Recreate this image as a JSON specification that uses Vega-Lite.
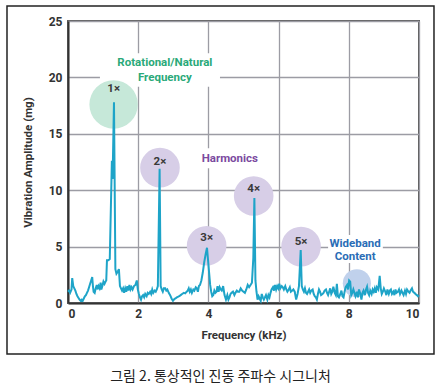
{
  "$schema": "https://vega.github.io/schema/vega-lite/v6.json",
  "width": 351,
  "height": 282,
  "autosize": "none",
  "padding": {"left": 68, "top": 21, "right": 25, "bottom": 84},
  "background": "white",
  "config": {
    "view": {"stroke": "#5a5a5a", "strokeWidth": 2},
    "font": "Roboto",
    "axis": {
      "labelFont": "Roboto", "labelFontWeight": "bold", "labelFontSize": 12, "labelColor": "#333333",
      "titleFont": "Roboto", "titleFontWeight": "bold", "titleFontSize": 11.5, "titleColor": "#333333",
      "gridColor": "#9c9ca4", "gridWidth": 1.3, "gridOpacity": 1,
      "domainColor": "#333333", "domainWidth": 2, "ticks": false
    }
  },
  "title": {
    "text": "그림 2. 통상적인 진동 주파수 시그니처",
    "orient": "bottom", "anchor": "middle", "frame": "bounds",
    "font": "Noto Sans CJK KR", "fontSize": 14, "fontWeight": "normal", "color": "#222222",
    "offset": 15
  },
  "datasets": {
    "spec": [
      {"f":0,"a":1.0},{"f":0.03,"a":1.1},{"f":0.06,"a":0.9},{"f":0.1,"a":1.2},{"f":0.12,"a":2.2},{"f":0.15,"a":1.5},{"f":0.18,"a":1.3},{"f":0.21,"a":1.1},{"f":0.24,"a":0.8},{"f":0.27,"a":0.6},{"f":0.3,"a":0.45},{"f":0.33,"a":0.3},{"f":0.36,"a":0.2},{"f":0.39,"a":0.3},{"f":0.42,"a":0.2},{"f":0.45,"a":0.4},{"f":0.48,"a":0.6},{"f":0.51,"a":0.7},{"f":0.54,"a":0.9},{"f":0.57,"a":1.1},{"f":0.6,"a":1.4},{"f":0.63,"a":1.7},{"f":0.66,"a":2.0},{"f":0.69,"a":2.3},{"f":0.71,"a":1.5},{"f":0.73,"a":1.0},{"f":0.76,"a":0.9},{"f":0.79,"a":1.3},{"f":0.82,"a":1.6},{"f":0.84,"a":1.2},{"f":0.87,"a":1.5},{"f":0.9,"a":1.3},{"f":0.93,"a":1.8},{"f":0.95,"a":1.2},{"f":0.98,"a":1.5},{"f":1.01,"a":1.9},{"f":1.04,"a":1.7},{"f":1.07,"a":1.9},{"f":1.09,"a":2.0},{"f":1.11,"a":3.8},{"f":1.15,"a":3.8},{"f":1.19,"a":3.9},{"f":1.25,"a":12.6},{"f":1.27,"a":11.0},{"f":1.31,"a":17.8},{"f":1.35,"a":3.0},{"f":1.38,"a":2.6},{"f":1.42,"a":2.8},{"f":1.45,"a":3.0},{"f":1.48,"a":1.5},{"f":1.51,"a":1.3},{"f":1.54,"a":1.1},{"f":1.57,"a":1.3},{"f":1.6,"a":0.9},{"f":1.63,"a":1.3},{"f":1.66,"a":1.0},{"f":1.69,"a":1.5},{"f":1.72,"a":1.1},{"f":1.75,"a":1.6},{"f":1.78,"a":1.2},{"f":1.81,"a":1.4},{"f":1.84,"a":1.2},{"f":1.88,"a":1.5},{"f":1.92,"a":1.6},{"f":1.96,"a":2.0},{"f":1.99,"a":1.2},{"f":2.02,"a":0.8},{"f":2.05,"a":0.5},{"f":2.08,"a":0.3},{"f":2.11,"a":0.6},{"f":2.14,"a":0.7},{"f":2.17,"a":0.5},{"f":2.2,"a":0.8},{"f":2.24,"a":0.6},{"f":2.27,"a":0.9},{"f":2.3,"a":0.8},{"f":2.34,"a":1.0},{"f":2.37,"a":0.8},{"f":2.4,"a":1.2},{"f":2.43,"a":0.9},{"f":2.47,"a":1.1},{"f":2.5,"a":1.0},{"f":2.53,"a":1.2},{"f":2.56,"a":1.5},{"f":2.61,"a":11.9},{"f":2.64,"a":1.5},{"f":2.67,"a":1.2},{"f":2.7,"a":1.0},{"f":2.73,"a":1.3},{"f":2.77,"a":1.3},{"f":2.8,"a":1.1},{"f":2.83,"a":1.2},{"f":2.87,"a":0.9},{"f":2.91,"a":0.7},{"f":2.95,"a":0.4},{"f":2.99,"a":0.2},{"f":3.03,"a":0.35},{"f":3.06,"a":0.4},{"f":3.1,"a":0.5},{"f":3.13,"a":0.55},{"f":3.17,"a":0.6},{"f":3.21,"a":0.7},{"f":3.25,"a":0.8},{"f":3.3,"a":0.9},{"f":3.34,"a":0.85},{"f":3.38,"a":1.0},{"f":3.41,"a":1.1},{"f":3.44,"a":1.3},{"f":3.47,"a":1.0},{"f":3.5,"a":1.2},{"f":3.53,"a":0.9},{"f":3.57,"a":1.2},{"f":3.6,"a":1.1},{"f":3.64,"a":1.4},{"f":3.67,"a":1.3},{"f":3.7,"a":1.0},{"f":3.73,"a":1.5},{"f":3.76,"a":1.6},{"f":3.8,"a":2.0},{"f":3.84,"a":2.7},{"f":3.88,"a":3.6},{"f":3.92,"a":4.3},{"f":3.96,"a":4.9},{"f":3.99,"a":3.8},{"f":4.02,"a":2.7},{"f":4.05,"a":1.6},{"f":4.08,"a":1.0},{"f":4.11,"a":0.6},{"f":4.14,"a":0.7},{"f":4.17,"a":1.1},{"f":4.2,"a":0.9},{"f":4.23,"a":1.0},{"f":4.26,"a":1.5},{"f":4.29,"a":1.0},{"f":4.32,"a":1.4},{"f":4.35,"a":1.2},{"f":4.38,"a":1.1},{"f":4.42,"a":1.5},{"f":4.46,"a":0.7},{"f":4.5,"a":0.3},{"f":4.54,"a":0.7},{"f":4.57,"a":0.3},{"f":4.6,"a":0.5},{"f":4.63,"a":0.8},{"f":4.66,"a":0.9},{"f":4.7,"a":1.0},{"f":4.74,"a":0.7},{"f":4.77,"a":0.9},{"f":4.81,"a":1.1},{"f":4.84,"a":1.0},{"f":4.88,"a":1.0},{"f":4.92,"a":1.3},{"f":4.96,"a":1.1},{"f":5.0,"a":1.0},{"f":5.04,"a":0.9},{"f":5.08,"a":1.2},{"f":5.12,"a":1.6},{"f":5.16,"a":1.4},{"f":5.2,"a":1.6},{"f":5.24,"a":1.8},{"f":5.28,"a":4.0},{"f":5.31,"a":9.3},{"f":5.34,"a":2.0},{"f":5.37,"a":1.0},{"f":5.4,"a":0.3},{"f":5.43,"a":0.6},{"f":5.46,"a":0.4},{"f":5.49,"a":0.2},{"f":5.52,"a":0.8},{"f":5.55,"a":0.5},{"f":5.58,"a":0.3},{"f":5.61,"a":0.5},{"f":5.64,"a":0.7},{"f":5.68,"a":0.3},{"f":5.71,"a":0.7},{"f":5.74,"a":0.5},{"f":5.77,"a":0.9},{"f":5.8,"a":1.2},{"f":5.84,"a":1.4},{"f":5.87,"a":1.1},{"f":5.9,"a":1.6},{"f":5.93,"a":1.2},{"f":5.96,"a":1.5},{"f":5.99,"a":1.3},{"f":6.02,"a":1.7},{"f":6.05,"a":1.3},{"f":6.09,"a":1.5},{"f":6.12,"a":1.4},{"f":6.15,"a":1.2},{"f":6.19,"a":1.5},{"f":6.22,"a":1.2},{"f":6.25,"a":1.0},{"f":6.29,"a":1.2},{"f":6.32,"a":1.4},{"f":6.35,"a":1.0},{"f":6.39,"a":1.1},{"f":6.42,"a":1.2},{"f":6.46,"a":1.0},{"f":6.5,"a":0.3},{"f":6.54,"a":0.8},{"f":6.58,"a":1.5},{"f":6.63,"a":4.7},{"f":6.66,"a":1.5},{"f":6.69,"a":1.2},{"f":6.72,"a":1.0},{"f":6.75,"a":1.3},{"f":6.78,"a":0.9},{"f":6.81,"a":0.8},{"f":6.84,"a":1.0},{"f":6.87,"a":1.2},{"f":6.9,"a":0.9},{"f":6.93,"a":1.1},{"f":6.97,"a":1.2},{"f":7.0,"a":0.8},{"f":7.03,"a":0.6},{"f":7.06,"a":0.5},{"f":7.09,"a":0.3},{"f":7.12,"a":0.8},{"f":7.15,"a":1.2},{"f":7.18,"a":1.0},{"f":7.21,"a":0.7},{"f":7.25,"a":0.8},{"f":7.28,"a":0.9},{"f":7.31,"a":1.1},{"f":7.35,"a":1.2},{"f":7.38,"a":0.9},{"f":7.41,"a":0.7},{"f":7.44,"a":1.0},{"f":7.47,"a":1.3},{"f":7.5,"a":0.8},{"f":7.53,"a":1.0},{"f":7.56,"a":1.45},{"f":7.6,"a":0.9},{"f":7.63,"a":0.7},{"f":7.66,"a":1.7},{"f":7.69,"a":0.6},{"f":7.72,"a":0.5},{"f":7.76,"a":0.8},{"f":7.79,"a":1.1},{"f":7.82,"a":0.6},{"f":7.85,"a":0.5},{"f":7.88,"a":1.0},{"f":7.91,"a":1.4},{"f":7.95,"a":1.6},{"f":7.98,"a":1.2},{"f":8.01,"a":2.0},{"f":8.04,"a":1.9},{"f":8.07,"a":0.7},{"f":8.1,"a":0.9},{"f":8.13,"a":1.2},{"f":8.16,"a":0.9},{"f":8.19,"a":0.6},{"f":8.23,"a":1.0},{"f":8.26,"a":0.5},{"f":8.29,"a":1.2},{"f":8.33,"a":0.8},{"f":8.36,"a":0.3},{"f":8.39,"a":0.9},{"f":8.42,"a":1.1},{"f":8.46,"a":0.7},{"f":8.49,"a":1.2},{"f":8.52,"a":1.45},{"f":8.55,"a":0.9},{"f":8.58,"a":0.7},{"f":8.61,"a":1.1},{"f":8.65,"a":0.8},{"f":8.68,"a":1.2},{"f":8.71,"a":1.0},{"f":8.74,"a":1.3},{"f":8.77,"a":0.9},{"f":8.8,"a":1.4},{"f":8.84,"a":1.2},{"f":8.88,"a":2.4},{"f":8.91,"a":1.3},{"f":8.94,"a":0.8},{"f":8.97,"a":1.0},{"f":9.0,"a":1.3},{"f":9.04,"a":1.0},{"f":9.07,"a":0.7},{"f":9.1,"a":1.2},{"f":9.14,"a":0.8},{"f":9.17,"a":1.1},{"f":9.2,"a":1.2},{"f":9.23,"a":0.8},{"f":9.27,"a":1.0},{"f":9.3,"a":0.7},{"f":9.33,"a":1.2},{"f":9.36,"a":0.9},{"f":9.4,"a":1.0},{"f":9.43,"a":1.2},{"f":9.46,"a":0.8},{"f":9.5,"a":1.1},{"f":9.53,"a":0.9},{"f":9.56,"a":0.7},{"f":9.6,"a":1.1},{"f":9.63,"a":0.8},{"f":9.66,"a":1.2},{"f":9.7,"a":1.0},{"f":9.73,"a":0.9},{"f":9.76,"a":1.1},{"f":9.8,"a":1.3},{"f":9.83,"a":1.0},{"f":9.87,"a":0.9},{"f":9.9,"a":0.8},{"f":9.94,"a":0.7},{"f":9.97,"a":0.6},{"f":10.0,"a":0.7}
    ],
    "circles": [
      {"f":1.3,"a":17.6,"g":"fund","lab":"1×","la":19.0},
      {"f":2.62,"a":12.0,"g":"harm","lab":"2×","la":12.5},
      {"f":3.95,"a":5.08,"g":"harm","lab":"3×","la":5.8},
      {"f":5.29,"a":9.49,"g":"harm","lab":"4×","la":10.1},
      {"f":6.64,"a":5.0,"g":"harm","lab":"5×","la":5.45},
      {"f":8.23,"a":1.75,"g":"wide","lab":"","la":1.75}
    ],
    "boxes": [
      {"f1":0.91,"f2":4.33,"a1":19.18,"a2":22.14},
      {"f1":3.65,"f2":5.61,"a1":11.94,"a2":13.71},
      {"f1":7.41,"f2":8.97,"a1":3.55,"a2":6.03}
    ],
    "notes": [
      {"t":"Rotational/Natural","f":2.76,"a":21.25,"g":"fund"},
      {"t":"Frequency","f":2.76,"a":19.95,"g":"fund"},
      {"t":"Harmonics","f":4.61,"a":12.74,"g":"harm"},
      {"t":"Wideband","f":8.18,"a":5.23,"g":"wide"},
      {"t":"Content","f":8.18,"a":4.05,"g":"wide"}
    ],
    "frame": [{"f1":-1.738,"f2":10.427,"a1":-4.52,"a2":26.33}]
  },
  "resolve": {"scale": {"color": "independent", "size": "independent"}},
  "layer": [
    {
      "data": {"name": "frame"},
      "mark": {"type": "rect", "fillOpacity": 0, "fill": "white", "stroke": "#222222", "strokeWidth": 1.5, "clip": false},
      "encoding": {
        "x": {"field": "f1", "type": "quantitative", "scale": {"domain": [0, 10], "nice": false},
              "axis": {"values": [0,1,2,3,4,5,6,7,8,9,10], "title": "Frequency (kHz)", "labelPadding": 5, "titlePadding": 10, "grid": true}},
        "x2": {"field": "f2"},
        "y": {"field": "a1", "type": "quantitative", "scale": {"domain": [0, 25], "nice": false},
              "axis": {"values": [0,5,10,15,20,25], "title": "Vibration Amplitude (mg)", "labelPadding": 6, "titlePadding": 15, "grid": true}},
        "y2": {"field": "a2"}
      }
    },
    {
      "data": {"name": "boxes"},
      "mark": {"type": "rect", "fill": "white"},
      "encoding": {
        "x": {"field": "f1", "type": "quantitative"},
        "x2": {"field": "f2"},
        "y": {"field": "a1", "type": "quantitative"},
        "y2": {"field": "a2"}
      }
    },
    {
      "data": {"name": "circles"},
      "mark": {"type": "circle", "opacity": 1},
      "encoding": {
        "x": {"field": "f", "type": "quantitative"},
        "y": {"field": "a", "type": "quantitative"},
        "color": {"field": "g", "type": "nominal", "scale": {"domain": ["fund","harm","wide"], "range": ["#c6e8d9","#d7cee7","#c0d1ec"]}, "legend": null},
        "size": {"field": "g", "type": "nominal", "scale": {"domain": ["fund","harm","wide"], "range": [2350, 790, 760]}, "legend": null}
      }
    },
    {
      "data": {"name": "spec"},
      "mark": {"type": "line", "color": "#1ea4c8", "strokeWidth": 2, "strokeJoin": "miter"},
      "encoding": {
        "x": {"field": "f", "type": "quantitative"},
        "y": {"field": "a", "type": "quantitative"}
      }
    },
    {
      "data": {"name": "circles"},
      "mark": {"type": "text", "font": "Roboto", "fontWeight": "bold", "fontSize": 11.5, "color": "#3a3a3a", "baseline": "middle"},
      "encoding": {
        "x": {"field": "f", "type": "quantitative"},
        "y": {"field": "la", "type": "quantitative"},
        "text": {"field": "lab"}
      }
    },
    {
      "data": {"name": "notes"},
      "mark": {"type": "text", "font": "Roboto", "fontWeight": "bold", "fontSize": 11.5, "baseline": "middle"},
      "encoding": {
        "x": {"field": "f", "type": "quantitative"},
        "y": {"field": "a", "type": "quantitative"},
        "text": {"field": "t"},
        "color": {"field": "g", "type": "nominal", "scale": {"domain": ["fund","harm","wide"], "range": ["#2aa979","#7b4aa0","#2a6db6"]}, "legend": null}
      }
    }
  ]
}
